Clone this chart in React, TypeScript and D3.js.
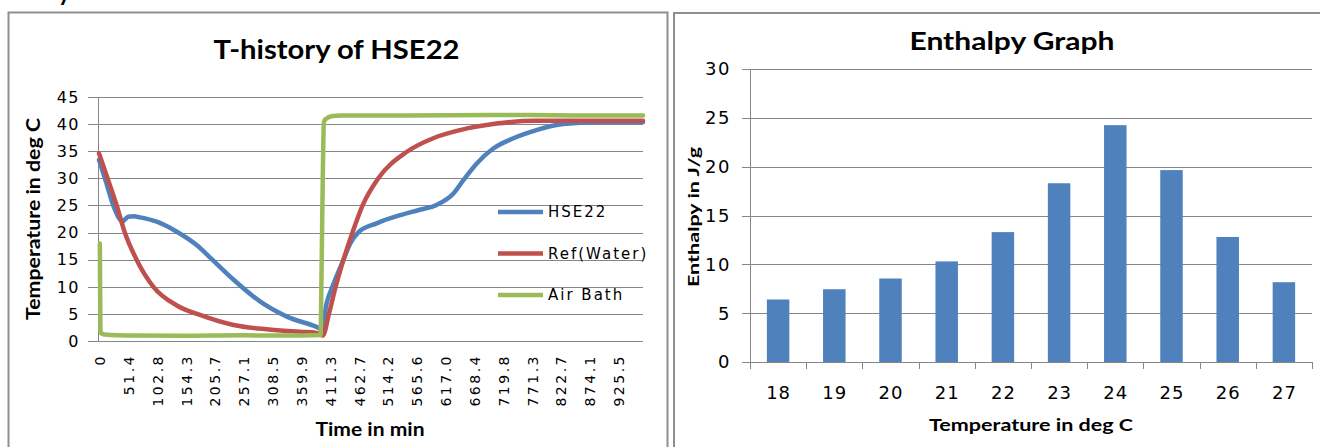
import React from 'react';
import * as d3 from 'd3';

// ---------- Left chart: T-history of HSE22 ----------
const timeTickLabels = ["0", "51.4", "102.8", "154.3", "205.7", "257.1", "308.5", "359.9", "411.3", "462.7", "514.2", "565.6", "617.0", "668.4", "719.8", "771.3", "822.7", "874.1", "925.5"];
const tempTicks = [0, 5, 10, 15, 20, 25, 30, 35, 40, 45];

const hseTime = [0, 12, 25.5, 36, 42, 47, 52, 62, 73, 103, 138, 174, 200, 240, 287, 335, 388, 397, 406, 418, 436, 448, 462, 495, 537, 572, 602, 632, 650, 674, 703, 739, 780, 828, 899, 970];
const hseTemp = [33.4, 29.5, 25.0, 22.6, 22.0, 22.5, 22.9, 23.0, 22.8, 22.0, 20.2, 17.7, 15.2, 11.3, 7.3, 4.5, 2.6, 2.2, 7.0, 10.5, 15.0, 18.0, 20.0, 21.7, 23.2, 24.2, 25.1, 27.2, 29.7, 32.8, 35.5, 37.4, 38.9, 40.0, 40.4, 40.4];

const refTime = [0, 16, 31.5, 46, 67, 97, 138, 180, 240, 299, 358, 388, 399, 410, 422, 436, 452, 470, 498, 549, 596, 644, 709, 780, 970];
const refTemp = [34.6, 29.8, 25.0, 20.0, 15.0, 10.0, 6.6, 4.8, 2.95, 2.15, 1.7, 1.5, 1.0, 5.0, 10.0, 15.0, 20.0, 25.0, 30.0, 34.9, 37.4, 38.9, 40.1, 40.6, 40.6];

const airTime = [1.5, 2.5, 4, 10, 60, 150, 250, 330, 395, 397, 399, 401, 405, 417, 432, 550, 700, 850, 970];
const airTemp = [18.0, 2.0, 1.4, 1.2, 1.0, 0.95, 1.05, 1.0, 1.1, 14.0, 30.0, 40.4, 41.0, 41.5, 41.6, 41.6, 41.7, 41.6, 41.6];

const seriesNames = ["HSE22", "Ref(Water)", "Air Bath"];
const seriesColors = ["#4F81BD", "#C0504D", "#9BBB59"];

// ---------- Right chart: Enthalpy Graph ----------
const enthalpyCategories = ["18", "19", "20", "21", "22", "23", "24", "25", "26", "27"];
const enthalpyValues = [6.4, 7.45, 8.55, 10.3, 13.3, 18.3, 24.25, 19.65, 12.8, 8.17];
const enthalpyTicks = [0, 5, 10, 15, 20, 25, 30];

const GRID = '#868686';
const TICKFONT = 'DejaVu Sans';
const BOLDFONT = 'Lato, "Open Sans", sans-serif';

export default function App() {
  // left scales
  const xL = d3.scaleLinear().domain([0, 970]).range([99, 643]);
  const yL = d3.scaleLinear().domain([0, 45]).range([341, 97]);
  const line = d3.line<[number, number]>()
    .x(d => xL(d[0]))
    .y(d => yL(d[1]))
    .curve(d3.curveMonotoneX);
  const series = [
    d3.zip(hseTime, hseTemp) as [number, number][],
    d3.zip(refTime, refTemp) as [number, number][],
    d3.zip(airTime, airTemp) as [number, number][],
  ];

  // right scales
  const xR = d3.scaleBand<string>().domain(enthalpyCategories).range([750, 1312]).paddingInner(0.6).paddingOuter(0.3);
  const yR = d3.scaleLinear().domain([0, 30]).range([362, 69]);
  const step = xR.step();

  return (
    <svg width={1320} height={447} style={{ position: 'absolute', left: 0, top: 0, background: '#fff' }}>
      <rect x={0} y={0} width={1320} height={447} fill="#fff" />
      <text x={58} y={1} fontFamily={BOLDFONT} fontWeight={700} fontSize={24} fill="#000">y</text>

      {/* Left panel */}
      <rect x={8.5} y={12.5} width={659} height={445} fill="#fff" stroke="#8f8f8f" strokeWidth={2} />
      <text x={336.5} y={59} textAnchor="middle" fontFamily={BOLDFONT} fontWeight={700} fontSize={27} textLength={246} lengthAdjust="spacingAndGlyphs">T-history of HSE22</text>

      {tempTicks.map(t => (
        <g key={'gl' + t}>
          <line x1={88} x2={643} y1={Math.round(yL(t)) + 0.5} y2={Math.round(yL(t)) + 0.5} stroke={GRID} strokeWidth={1} />
          <text x={80} y={yL(t)} dy="0.36em" textAnchor="end" fontFamily={TICKFONT} fontSize={16} style={{ letterSpacing: '1.5px' }} fill="#000">{t}</text>
        </g>
      ))}
      <line x1={98.5} x2={98.5} y1={97} y2={342} stroke={GRID} strokeWidth={1} />

      {timeTickLabels.map(l => (
        <text key={'tl' + l} transform={`translate(${xL(+l) + 1},354) rotate(-90)`} dy="0.36em" textAnchor="end" fontFamily={TICKFONT} fontSize={14} style={{ letterSpacing: '2.5px' }} fill="#000">{l}</text>
      ))}

      {series.map((s, i) => (
        <path key={'s' + i} d={line(s) || ''} fill="none" stroke={seriesColors[i]} strokeWidth={4.5} strokeLinejoin="round" strokeLinecap="round" />
      ))}

      {seriesNames.map((n, i) => (
        <g key={'lg' + n}>
          <line x1={498} x2={543} y1={212 + i * 41.5} y2={212 + i * 41.5} stroke={seriesColors[i]} strokeWidth={4.5} />
          <text x={548} y={212 + i * 41.5} dy="0.36em" fontFamily={TICKFONT} fontSize={15} style={{ letterSpacing: '2px' }} fill="#000">{n}</text>
        </g>
      ))}

      <text transform="translate(40,219) rotate(-90)" textAnchor="middle" fontFamily={BOLDFONT} fontWeight={700} fontSize={18} textLength={202} lengthAdjust="spacingAndGlyphs">Temperature in deg C</text>
      <text x={370} y={436} textAnchor="middle" fontFamily={BOLDFONT} fontWeight={700} fontSize={18} textLength={109} lengthAdjust="spacingAndGlyphs">Time in min</text>

      {/* Right panel */}
      <rect x={674} y={13} width={700} height={445} fill="#fff" stroke="#8f8f8f" strokeWidth={2} />
      <text x={1012} y={50} textAnchor="middle" fontFamily={BOLDFONT} fontWeight={700} fontSize={25} textLength={205} lengthAdjust="spacingAndGlyphs">Enthalpy Graph</text>

      {enthalpyTicks.map(t => (
        <g key={'rg' + t}>
          <line x1={742} x2={1312} y1={Math.round(yR(t)) + 0.5} y2={Math.round(yR(t)) + 0.5} stroke={GRID} strokeWidth={1} />
          <text x={731} y={yR(t)} dy="0.36em" textAnchor="end" fontFamily={TICKFONT} fontSize={18} style={{ letterSpacing: '1.5px' }} fill="#000">{t}</text>
        </g>
      ))}
      <line x1={750.5} x2={750.5} y1={69} y2={362} stroke={GRID} strokeWidth={1} />

      {enthalpyCategories.map((c, i) => (
        <g key={'rc' + c}>
          <line x1={Math.round(750 + i * step) + 0.5} x2={Math.round(750 + i * step) + 0.5} y1={362} y2={369} stroke={GRID} strokeWidth={1} />
          <rect x={xR(c)} y={yR(enthalpyValues[i])} width={xR.bandwidth()} height={yR(0) - yR(enthalpyValues[i])} fill="#4F81BD" />
          <text x={(xR(c) || 0) + xR.bandwidth() / 2 + 0.5} y={399} textAnchor="middle" fontFamily={TICKFONT} fontSize={18} style={{ letterSpacing: '1px' }} fill="#000">{c}</text>
        </g>
      ))}
      <line x1={1312.5} x2={1312.5} y1={362} y2={369} stroke={GRID} strokeWidth={1} />

      <text transform="translate(699,217) rotate(-90)" textAnchor="middle" fontFamily={BOLDFONT} fontWeight={700} fontSize={16} textLength={140} lengthAdjust="spacingAndGlyphs">Enthalpy in J/g</text>
      <text x={1031} y={431} textAnchor="middle" fontFamily={BOLDFONT} fontWeight={700} fontSize={17} textLength={204} lengthAdjust="spacingAndGlyphs">Temperature in deg C</text>
    </svg>
  );
}
